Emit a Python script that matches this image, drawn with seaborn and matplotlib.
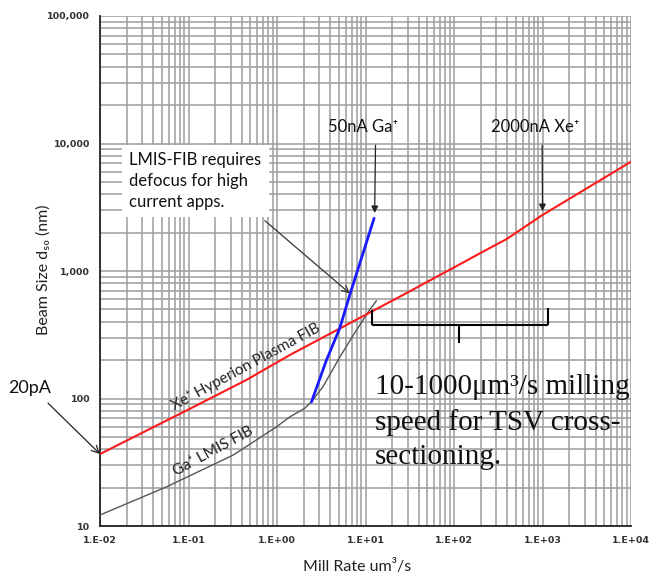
import numpy as np
import pandas as pd
import matplotlib
matplotlib.use("Agg")
import matplotlib.pyplot as plt
from matplotlib.ticker import FixedLocator, FixedFormatter, LogLocator, NullFormatter
import seaborn as sns

# ---------------- data ----------------
xe_rate = [0.01, 0.1, 0.453, 1.39, 10, 24.3, 100, 231, 393, 1000, 10000]
xe_size = [36.7, 82, 140, 219, 453, 628, 1067, 1462, 1780, 2750, 7200]

ga_rate = [0.01, 0.0566, 0.32, 0.99, 1.39, 2.06, 2.45, 3.29, 5.12, 7.55, 11.1, 13.3]
ga_size = [12.2, 20.3, 36, 60, 71.6, 83.8, 94.4, 123, 211, 327, 494, 585]

ga50_rate = [2.45, 3.62, 5.12, 6.64, 9.37, 12.5]
ga50_size = [94, 200, 356, 649, 1377, 2590]

x_ticks = [0.01, 0.1, 1, 10, 100, 1000, 10000]
x_tick_labels = ["1.E-02", "1.E-01", "1.E+00", "1.E+01", "1.E+02", "1.E+03", "1.E+04"]
y_ticks = [10, 100, 1000, 10000, 100000]
y_tick_labels = ["10", "100", "1,000", "10,000", "100,000"]

# bracket marking 10-1000 um3/s
br_left, br_mid, br_right = 11.7, 113, 1148
br_top_l, br_bar, br_tip, br_top_r = 494, 377, 272, 510

df = pd.concat([
    pd.DataFrame({"rate": xe_rate, "size": xe_size, "series": "Xe"}),
    pd.DataFrame({"rate": ga_rate, "size": ga_size, "series": "Ga"}),
    pd.DataFrame({"rate": ga50_rate, "size": ga50_size, "series": "Ga50"}),
])

# ---------------- style ----------------
sns.set_style("white")
plt.rcParams["font.family"] = ["Lato", "DejaVu Sans"]

W, H = 650, 578
fig = plt.figure(figsize=(W / 100, H / 100), dpi=100)
ax = fig.add_axes([100 / W, 52 / H, 531 / W, 510 / H])

def fp(x, y):
    """image pixel (from top-left) -> figure fraction"""
    return (x / W, 1 - y / H)

ax.set_xscale("log")
ax.set_yscale("log")
ax.set_xlim(0.01, 10000)
ax.set_ylim(10, 100000)

# grid
ax.xaxis.set_major_locator(FixedLocator(x_ticks))
ax.xaxis.set_major_formatter(FixedFormatter(x_tick_labels))
ax.yaxis.set_major_locator(FixedLocator(y_ticks))
ax.yaxis.set_major_formatter(FixedFormatter(y_tick_labels))
ax.xaxis.set_minor_locator(LogLocator(base=10, subs=np.arange(2, 10)))
ax.yaxis.set_minor_locator(LogLocator(base=10, subs=np.arange(2, 10)))
ax.xaxis.set_minor_formatter(NullFormatter())
ax.yaxis.set_minor_formatter(NullFormatter())
ax.grid(True, which="both", color="#a0a0a0", linewidth=1.15, zorder=0)
ax.set_axisbelow(True)

for s in ["top", "right"]:
    ax.spines[s].set_visible(False)
for s in ["left", "bottom"]:
    ax.spines[s].set_color("#222222")
    ax.spines[s].set_linewidth(1.3)

ax.tick_params(axis="both", which="major", length=4, width=1, color="#222222",
               labelsize=6.8, labelcolor="#333333", pad=3)
ax.tick_params(axis="both", which="minor", length=0)
for lab in ax.get_xticklabels() + ax.get_yticklabels():
    lab.set_fontfamily(["DejaVu Sans"])
    lab.set_fontweight("bold")

# curves
sns.lineplot(data=df[df.series == "Ga"], x="rate", y="size", ax=ax,
             color="#555555", linewidth=1.0, sort=False, estimator=None, zorder=3)
sns.lineplot(data=df[df.series == "Xe"], x="rate", y="size", ax=ax,
             color="#ff1a1a", linewidth=1.5, sort=False, estimator=None, zorder=4)
sns.lineplot(data=df[df.series == "Ga50"], x="rate", y="size", ax=ax,
             color="#1a1aff", linewidth=2.0, sort=False, estimator=None, zorder=5)

ax.set_xlabel("")
ax.set_ylabel("")

# bracket
bk = dict(color="black", linewidth=1.5, zorder=6, solid_capstyle="butt")
ax.plot([br_left, br_left], [br_top_l, br_bar], **bk)
ax.plot([br_left, br_right], [br_bar, br_bar], **bk)
ax.plot([br_right, br_right], [br_bar, br_top_r], **bk)
ax.plot([br_mid, br_mid], [br_bar, br_tip], **bk)

# axis labels
fig.text(*fp(44, 270), "Beam Size d\u2085\u2080 (nm)", rotation=90, ha="center", va="center",
         fontsize=11.5, color="#222222")
fig.text(*fp(357, 567), "Mill Rate um\u00b3/s", ha="center", va="center",
         fontsize=11.5, color="#222222")

# text box
ax.annotate("LMIS-FIB requires\ndefocus for high\ncurrent apps.",
            xy=(6.64, 668), xycoords="data",
            xytext=fp(129, 181), textcoords="figure fraction",
            ha="left", va="center", fontsize=12, color="#111111", linespacing=1.35,
            bbox=dict(boxstyle="square,pad=0.45", fc="white", ec="none"),
            arrowprops=dict(arrowstyle="->", color="#333333", lw=0.9,
                            relpos=(0.93, 0.0), shrinkA=4, shrinkB=0),
            zorder=7)

ax.annotate("50nA Ga\u207a", xy=(12.7, 2850), xycoords="data",
            xytext=fp(363, 127), textcoords="figure fraction",
            ha="center", va="center", fontsize=12, color="#111111",
            arrowprops=dict(arrowstyle="-|>", color="#222222", lw=0.9,
                            mutation_scale=10, relpos=(0.68, 0.0), shrinkA=5, shrinkB=0),
            zorder=7)

ax.annotate("2000nA Xe\u207a", xy=(1000, 2950), xycoords="data",
            xytext=fp(535, 127), textcoords="figure fraction",
            ha="center", va="center", fontsize=12, color="#111111",
            arrowprops=dict(arrowstyle="-|>", color="#222222", lw=0.9,
                            mutation_scale=10, relpos=(0.58, 0.0), shrinkA=5, shrinkB=0),
            zorder=7)

ax.annotate("20pA", xy=(0.01, 36.7), xycoords="data",
            xytext=fp(30, 388), textcoords="figure fraction",
            ha="center", va="center", fontsize=13, color="#111111",
            arrowprops=dict(arrowstyle="->", color="#222222", lw=0.9,
                            relpos=(0.75, 0.0), shrinkA=4, shrinkB=0),
            annotation_clip=False, zorder=7)

# rotated curve labels
fig.text(*fp(246, 367), "Xe\u207a Hyperion Plasma FIB", rotation=28.5, ha="center",
         va="center", fontsize=11, color="#222222", rotation_mode="anchor")
fig.text(*fp(213, 451), "Ga\u207a LMIS FIB", rotation=28.5, ha="center",
         va="center", fontsize=11, color="#222222", rotation_mode="anchor")

# big serif text
fig.text(*fp(375, 422), "10-1000\u03bcm\u00b3/s milling\nspeed for TSV cross-\nsectioning.",
         ha="left", va="center", fontsize=21, family=["Liberation Serif", "DejaVu Serif"],
         color="#111111", linespacing=1.42)

fig.savefig("out.png", dpi=100)
